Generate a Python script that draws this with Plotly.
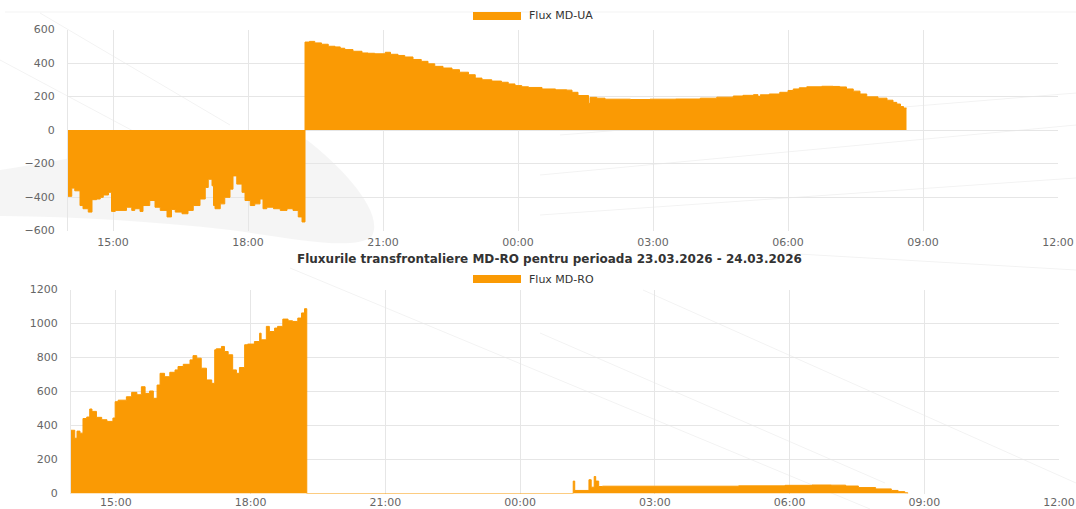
import plotly.graph_objects as go

W, H = 1076, 509
ORANGE = "#FA9A04"
GRID = "#e6e6e6"

# ---------------- data (step values, each holds until the next time) ----------------
ua_times = ["14:00", "14:05", "14:09", "14:16", "14:20", "14:27", "14:32", "14:38", "14:43", "14:47",
            "14:54", "14:58", "15:03", "15:18", "15:25", "15:29", "15:36", "15:40", "15:49", "15:56",
            "16:03", "16:12", "16:18", "16:23", "16:32", "16:40", "16:47", "16:56", "17:03", "17:07",
            "17:12", "17:14", "17:16", "17:23", "17:29", "17:36", "17:40", "17:45", "17:52", "17:56",
            "18:03", "18:09", "18:16", "18:20", "18:25", "18:34", "18:43", "18:52", "19:00", "19:07",
            "19:12",
            "19:16", "19:22", "19:29", "19:38", "19:47", "19:56", "20:03", "20:09", "20:20", "20:32",
            "20:40", "20:49", "21:03", "21:10", "21:20", "21:29", "21:40", "21:51", "22:00", "22:09",
            "22:20", "22:32", "22:42", "22:54", "23:03", "23:12", "23:25", "23:38", "23:47", "23:56",
            "00:05", "00:14", "00:32", "00:50", "01:05", "01:12", "01:20", "01:34", "01:36", "01:45",
            "01:56", "02:30", "02:56", "03:30", "04:03", "04:25", "04:47", "05:00", "05:14", "05:20",
            "05:23", "05:35", "05:49", "06:00", "06:07", "06:15", "06:25", "06:45", "07:00", "07:09",
            "07:18", "07:27", "07:36", "07:45", "08:00", "08:12", "08:20", "08:25", "08:30", "08:34",
            "08:38"]
ua_values = [-396, -347, -363, -451, -470, -490, -416, -412, -402, -388,
             -372, -486, -480, -461, -480, -470, -486, -451, -421, -461,
             -480, -519, -474, -490, -500, -480, -451, -412, -343, -294,
             -333, -451, -470, -441, -402, -353, -274, -323, -372, -421,
             -451, -441, -412, -470, -461, -470, -480, -470, -480, -519,
             -549,
             525, 529, 520, 512, 500, 496, 488, 480, 470, 460,
             458, 455, 464, 452, 445, 436, 421, 410, 395, 380,
             370, 360, 345, 330, 310, 300, 292, 285, 275, 265,
             258, 254, 245, 240, 238, 225, 206, 159, 195, 190,
             184, 182, 184, 185, 190, 196, 203, 207, 211, 200,
             210, 215, 225, 236, 245, 252, 258, 261, 260, 257,
             245, 232, 215, 198, 190, 178, 165, 155, 140, 131,
             131]

ro_times = ["14:00", "14:05", "14:08", "14:12", "14:16", "14:21", "14:25", "14:28", "14:34", "14:41",
            "14:48", "14:56", "14:59", "15:03", "15:14", "15:21", "15:28", "15:34", "15:39", "15:45",
            "15:50", "15:55", "15:59", "16:05", "16:12", "16:19", "16:23", "16:30", "16:39", "16:43",
            "16:48", "16:54", "17:01", "17:08", "17:12", "17:14", "17:21", "17:25", "17:30", "17:36",
            "17:41", "17:45", "17:52", "17:56", "18:05", "18:12", "18:14", "18:21", "18:25", "18:32",
            "18:36", "18:43", "18:50", "18:56", "19:03", "19:08", "19:12",
            "19:15", "01:11", "01:13", "01:32", "01:35", "01:39", "01:41", "01:45", "01:50", "03:00",
            "04:52", "05:54", "06:30", "06:56", "07:15", "07:32", "07:55", "08:16", "08:25", "08:34",
            "08:38"]
ro_values = [372, 325, 367, 355, 441, 450, 497, 483, 448, 434,
             424, 444, 540, 549, 569, 595, 581, 628, 589, 603,
             560, 638, 707, 687, 713, 727, 747, 760, 786, 811,
             796, 737, 668, 648, 845, 851, 865, 835, 816, 727,
             707, 741, 875, 879, 894, 943, 904, 983, 953, 973,
             983, 1026, 1016, 1012, 1032, 1062, 1087,
             0, 73, 18, 81, 37, 100, 73, 41, 43, 43,
             45, 48, 50, 49, 44, 35, 27, 18, 11, 4,
             0]

x_range = ["2026-03-23 14:00", "2026-03-24 12:00"]
ua_range = [-600, 600]
ro_range = [0, 1200]
chart_title = "Fluxurile transfrontaliere MD-RO pentru perioada 23.03.2026 - 24.03.2026"
ua_name = "Flux MD-UA"
ro_name = "Flux MD-RO"


def to_dt(hhmm):
    h = int(hhmm[:2])
    day = "2026-03-23" if h >= 12 else "2026-03-24"
    return f"{day} {hhmm}"


def px(x):
    return x / W


def py(y):
    return 1 - y / H


fig = go.Figure()
fig.add_trace(go.Scatter(
    x=[to_dt(t) for t in ua_times], y=ua_values, name=ua_name, mode="lines",
    line=dict(shape="hv", width=1, color=ORANGE), fill="tozeroy", fillcolor=ORANGE,
    xaxis="x", yaxis="y", hoverinfo="skip", showlegend=False))
fig.add_trace(go.Scatter(
    x=[to_dt(t) for t in ro_times], y=ro_values, name=ro_name, mode="lines",
    line=dict(shape="hv", width=1, color=ORANGE), fill="tozeroy", fillcolor=ORANGE,
    xaxis="x2", yaxis="y2", hoverinfo="skip", showlegend=False))

tickfont = dict(family="DejaVu Sans", size=11, color="#666666")
xcommon = dict(type="date", range=x_range, tick0="2026-03-23 15:00", dtick=3 * 3600 * 1000,
               tickformat="%H:%M", showgrid=True, gridcolor=GRID, gridwidth=1, zeroline=False,
               showline=False, ticks="", tickfont=tickfont, fixedrange=True,
               automargin=False, ticklabeloverflow="allow")
ycommon = dict(dtick=200, showgrid=True, gridcolor=GRID, gridwidth=1, zeroline=False,
               showline=True, linecolor=GRID, linewidth=1, ticks="", tickfont=tickfont,
               ticklabelstandoff=10, fixedrange=True, automargin=False)

fig.update_layout(
    width=W, height=H, autosize=False,
    margin=dict(l=0, r=0, t=0, b=0, pad=0),
    paper_bgcolor="white", plot_bgcolor="rgba(0,0,0,0)",
    showlegend=False,
    xaxis=dict(xcommon, domain=[px(68), px(1058)], anchor="y", ticklabelstandoff=3),
    yaxis=dict(ycommon, range=ua_range, tick0=-600, domain=[py(230.5), py(29.5)], anchor="x"),
    xaxis2=dict(xcommon, domain=[px(71), px(1059)], anchor="y2", ticklabelstandoff=0),
    yaxis2=dict(ycommon, range=ro_range, tick0=0, domain=[py(493.5), py(289.5)], anchor="x2"),
)

shapes = []
# faint background watermark (swoosh + thin lines)
swoosh = ("M {a},{b} C {c},{d} {e},{f} {g},{h} C {i},{j} {k},{l} {m},{n} "
          "C {o},{p} {q},{r} {s},{t} C {u},{v} {w},{x} {y},{z} Z").format(
    a=px(0), b=py(170), c=px(120), d=py(152), e=px(250), f=py(118), g=px(307), h=py(140),
    i=px(340), j=py(165), k=px(385), l=py(212), m=px(372), n=py(236),
    o=px(355), p=py(252), q=px(290), r=py(238), s=px(230), t=py(230),
    u=px(150), v=py(221), w=px(80), x=py(217), y=px(0), z=py(216))
shapes.append(dict(type="path", xref="paper", yref="paper", path=swoosh,
                   fillcolor="rgba(0,0,0,0.04)", line=dict(width=0), layer="below"))

faint_lines = [((5, 12), (1076, 12)),
               ((560, 135), (1076, 93)), ((540, 175), (1076, 125)), ((540, 215), (1076, 178)),
               ((40, 13), (230, 125)), ((0, 60), (150, 140)),
               ((290, 268), (870, 509)), ((540, 333), (885, 483)), ((643, 290), (1076, 483)),
               ((781, 253), (1076, 270))]
for (x0, y0), (x1, y1) in faint_lines:
    shapes.append(dict(type="line", xref="paper", yref="paper", x0=px(x0), y0=py(y0),
                       x1=px(x1), y1=py(y1), line=dict(color="rgba(0,0,0,0.05)", width=1),
                       layer="below"))

# legend symbols
for yc in (16, 279):
    shapes.append(dict(type="rect", xref="paper", yref="paper", x0=px(473), x1=px(521),
                       y0=py(yc + 4), y1=py(yc - 4), fillcolor=ORANGE, line=dict(width=0)))
fig.update_layout(shapes=shapes)

legfont = dict(family="DejaVu Sans", size=11, color="#333333")
fig.add_annotation(x=px(527), y=py(16), xref="paper", yref="paper", text=ua_name,
                   showarrow=False, xanchor="left", yanchor="middle", font=legfont)
fig.add_annotation(x=px(527), y=py(279), xref="paper", yref="paper", text=ro_name,
                   showarrow=False, xanchor="left", yanchor="middle", font=legfont)
fig.add_annotation(x=px(549), y=py(259), xref="paper", yref="paper", text="<b>" + chart_title + "</b>",
                   showarrow=False, xanchor="center", yanchor="middle",
                   font=dict(family="DejaVu Sans", size=12, color="#333333"))

post = ("document.documentElement.style.margin='0';document.body.style.margin='0';"
        "document.documentElement.style.overflow='hidden';document.body.style.overflow='hidden';")
fig.write_html("out.html", config={"displayModeBar": False}, post_script=post)
